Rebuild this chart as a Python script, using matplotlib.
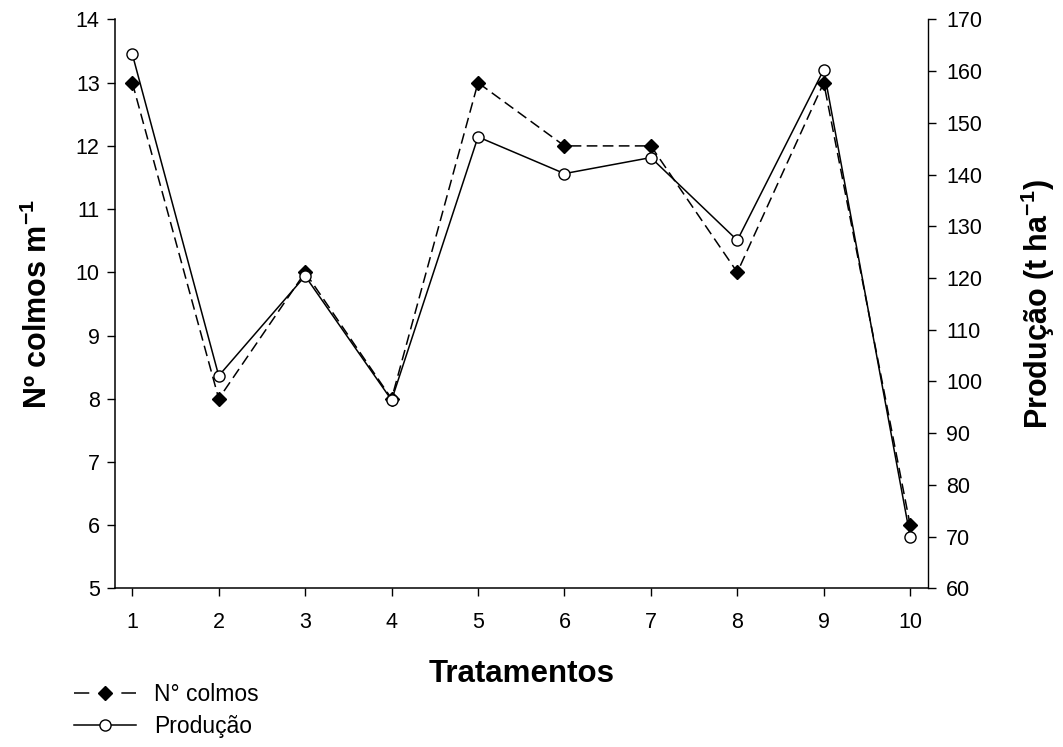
import matplotlib
matplotlib.use("Agg")
import matplotlib.pyplot as plt
from matplotlib.lines import Line2D

plt.rcParams["font.family"] = ["Liberation Sans", "DejaVu Sans"]
plt.rcParams["mathtext.fontset"] = "custom"
plt.rcParams["mathtext.rm"] = "Liberation Sans"
plt.rcParams["mathtext.bf"] = "Liberation Sans:bold"

# dados
tratamentos = [1, 2, 3, 4, 5, 6, 7, 8, 9, 10]
n_colmos = [13, 8, 10, 8, 13, 12, 12, 10, 13, 6]
producao = [163.3, 101.1, 120.4, 96.4, 147.3, 140.2, 143.3, 127.3, 160.3, 70.0]

fig = plt.figure(figsize=(10.63, 7.47), dpi=100)
ax = fig.add_axes([0.1082, 0.2124, 0.7651, 0.7615])
ax2 = ax.twinx()

l1, = ax.plot(tratamentos, n_colmos, color="black", lw=1.1, ls=(0, (7, 3.5)),
              marker="D", ms=7.5, mfc="black", mec="black", mew=1)
l2, = ax2.plot(tratamentos, producao, color="black", lw=1.1, ls="-",
               marker="o", ms=8, mfc="white", mec="black", mew=1)

ax.set_xlim(0.8, 10.21)
ax.set_ylim(5, 14)
ax2.set_ylim(60, 170)
ax.set_xticks(tratamentos)
ax.set_yticks(range(5, 15))
ax2.set_yticks(range(60, 171, 10))

for sp in ["top", "right"]:
    ax.spines[sp].set_visible(False)
for sp in ["top", "left", "bottom"]:
    ax2.spines[sp].set_visible(False)
for sp in ["left", "bottom"]:
    ax.spines[sp].set_linewidth(1.1)
ax2.spines["right"].set_linewidth(1.0)

ax.tick_params(axis="both", direction="out", length=6, width=1, labelsize=15.5, pad=5)
ax.tick_params(axis="x", pad=11)
ax2.tick_params(axis="y", direction="out", length=6, width=1, labelsize=15.5, pad=7)

ax.set_xlabel("Tratamentos", fontsize=22.5, fontweight="bold", labelpad=19)
ax.set_ylabel(r"Nº colmos m$^{\mathbf{-1}}$", fontsize=22, fontweight="bold", labelpad=16)
ax2.set_ylabel(r"Produção (t ha$^{\mathbf{-1}}$)", fontsize=22, fontweight="bold", labelpad=26)

# legenda: handle do tracejado com um traço curto de cada lado
h1 = Line2D([], [], color="black", lw=1.1, ls=(0, (10, 21)),
            marker="D", ms=7.5, mfc="black", mec="black", mew=1)
h2 = Line2D([], [], color="black", lw=1.1, ls="-",
            marker="o", ms=8, mfc="white", mec="black", mew=1)
fig.legend([h1, h2], ["N° colmos", "Produção"], loc="upper left",
           bbox_to_anchor=(0.0593, 0.101), frameon=False, fontsize=16.5,
           borderpad=0, handlelength=2.7, handletextpad=0.78, labelspacing=0.4)

fig.savefig("out.png", dpi=100)
